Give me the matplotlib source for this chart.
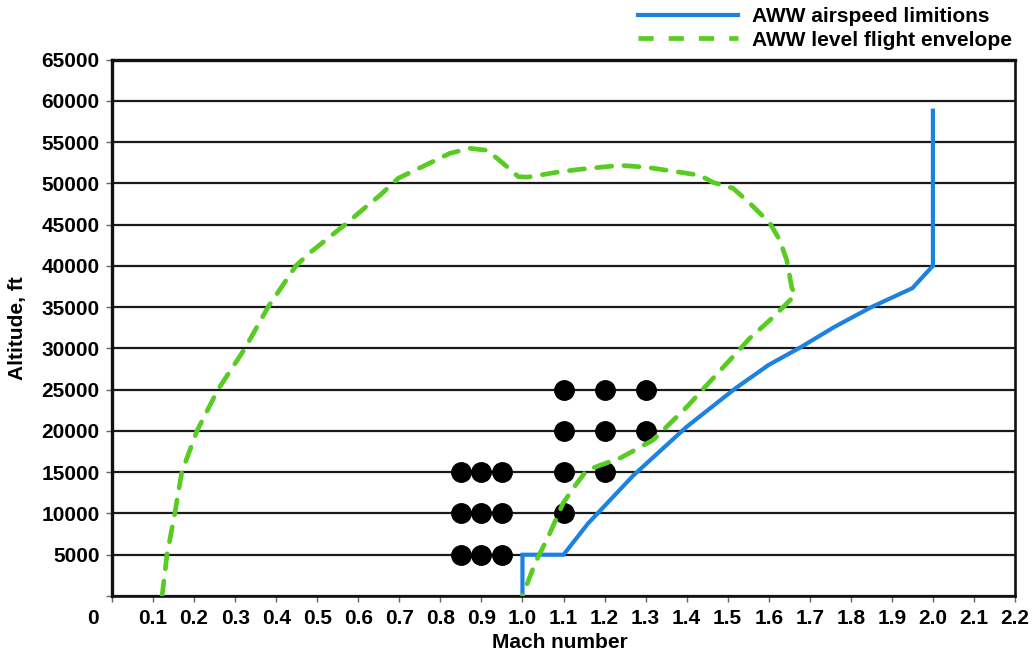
import matplotlib
matplotlib.use("Agg")
import matplotlib.pyplot as plt
import matplotlib.transforms as mtransforms
from matplotlib.lines import Line2D

plt.rcParams["font.family"] = ["Liberation Sans", "DejaVu Sans"]
plt.rcParams["font.weight"] = "bold"

# Airspeed limit line (Mach, altitude ft)
limit_mach = [1.0, 1.0, 1.1, 1.16, 1.27, 1.40, 1.52, 1.60, 1.68, 1.76, 1.85, 1.95, 2.0, 2.0]
limit_alt = [0, 5000, 5000, 8800, 14600, 20500, 25200, 28000, 30200, 32600, 35000, 37300, 40000, 58800]

# Level flight envelope (Mach, altitude ft)
env_mach = [0.122, 0.134, 0.153, 0.170, 0.207, 0.258, 0.324, 0.380, 0.448, 0.480, 0.510, 0.568,
            0.620, 0.653, 0.697, 0.738, 0.823, 0.872, 0.914, 0.938, 0.965, 0.990,
            1.013, 1.084, 1.140, 1.189, 1.238, 1.303, 1.384, 1.432, 1.465, 1.513,
            1.554, 1.603, 1.627, 1.644, 1.656, 1.664, 1.652, 1.608, 1.554, 1.505,
            1.449, 1.400, 1.318, 1.238, 1.157, 1.133, 1.099, 1.067, 1.031, 1.000]
env_alt = [0, 5000, 10000, 15000, 20000, 25000, 30000, 35000, 40000, 41500, 42700, 45000,
           47200, 48550, 50600, 51580, 53630, 54240, 54000, 53030, 51900, 50800,
           50750, 51340, 51700, 51940, 52180, 51940, 51340, 50970, 50100, 49400,
           47580, 45160, 43100, 40680, 37400, 36440, 35840, 33660, 31240, 28570,
           25550, 22880, 18890, 16710, 15250, 13680, 11260, 7630, 4000, 0]

# Test points (Mach, altitude ft)
pt_mach = [0.85, 0.90, 0.95,
           0.85, 0.90, 0.95, 1.1,
           0.85, 0.90, 0.95, 1.1, 1.2,
           1.1, 1.2, 1.3,
           1.1, 1.2, 1.3]
pt_alt = [5000, 5000, 5000,
          10000, 10000, 10000, 10000,
          15000, 15000, 15000, 15000, 15000,
          20000, 20000, 20000,
          25000, 25000, 25000]

x_ticks = [round(0.1 * i, 1) for i in range(23)]
x_labels = [""] + ["%.1f" % v for v in x_ticks[1:]]
y_ticks = list(range(0, 65001, 5000))
y_labels = [""] + [str(v) for v in y_ticks[1:]]

BLUE = "#1c82e2"
GREEN = "#58cc22"
W, H = 1034, 655
FS = 15

fig = plt.figure(figsize=(W / 100, H / 100), dpi=100)
ax = fig.add_axes([112 / W, 59 / H, (1015 - 112) / W, (596 - 59.5) / H])
ax.set_xlim(0, 2.2)
ax.set_ylim(0, 65000)

ax.set_xticks(x_ticks)
ax.set_xticklabels(x_labels)
ax.set_yticks(y_ticks)
ax.set_yticklabels(y_labels)
ax.tick_params(axis="both", direction="out", length=4, width=1, color="#666666",
               labelsize=FS, pad=5)
ax.tick_params(axis="x", pad=5)

ax.yaxis.grid(True, color="#1a1a1a", lw=1.6)
ax.set_axisbelow(True)
for side in ["left", "top"]:
    ax.spines[side].set_linewidth(2.4)
for side in ["right", "bottom"]:
    ax.spines[side].set_linewidth(1.9)
for sp in ax.spines.values():
    sp.set_color("#111111")

ax.plot(pt_mach, pt_alt, "o", color="black", markersize=14, zorder=3)
ax.plot(limit_mach, limit_alt, color=BLUE, lw=3.0, zorder=4, solid_joinstyle="miter")
ax.plot(env_mach, env_alt, color=GREEN, lw=3.4, dashes=(3.2, 2.6),
        dash_capstyle="round", zorder=5)

# origin label sits left of the axis corner
off = mtransforms.ScaledTranslation(-0.19, -0.23, fig.dpi_scale_trans)
ax.text(0, 0, "0", transform=ax.get_xaxis_transform() + off, ha="center",
        va="center", fontsize=FS, fontweight="bold", clip_on=False)

ax.set_xlabel("Mach number", fontsize=FS, fontweight="bold")
ax.xaxis.set_label_coords((563 - 112) / 903 - 0.003, -0.069)
ax.set_ylabel("Altitude, ft", fontsize=FS, fontweight="bold")
ax.yaxis.set_label_coords(-0.094, 0.5)

handles = [Line2D([], [], color=BLUE, lw=3.0),
           Line2D([], [], color=GREEN, lw=3.4, dashes=(3.2, 3.2))]
fig.legend(handles, ["AWW airspeed limitions", "AWW level flight envelope"],
           loc="upper left", bbox_to_anchor=(638 / W, 1 - 7 / H),
           bbox_transform=fig.transFigure, frameon=False, fontsize=FS,
           handlelength=4.8, handletextpad=0.65, borderpad=0,
           borderaxespad=0, labelspacing=0.22)

fig.savefig("out.png", dpi=100)
